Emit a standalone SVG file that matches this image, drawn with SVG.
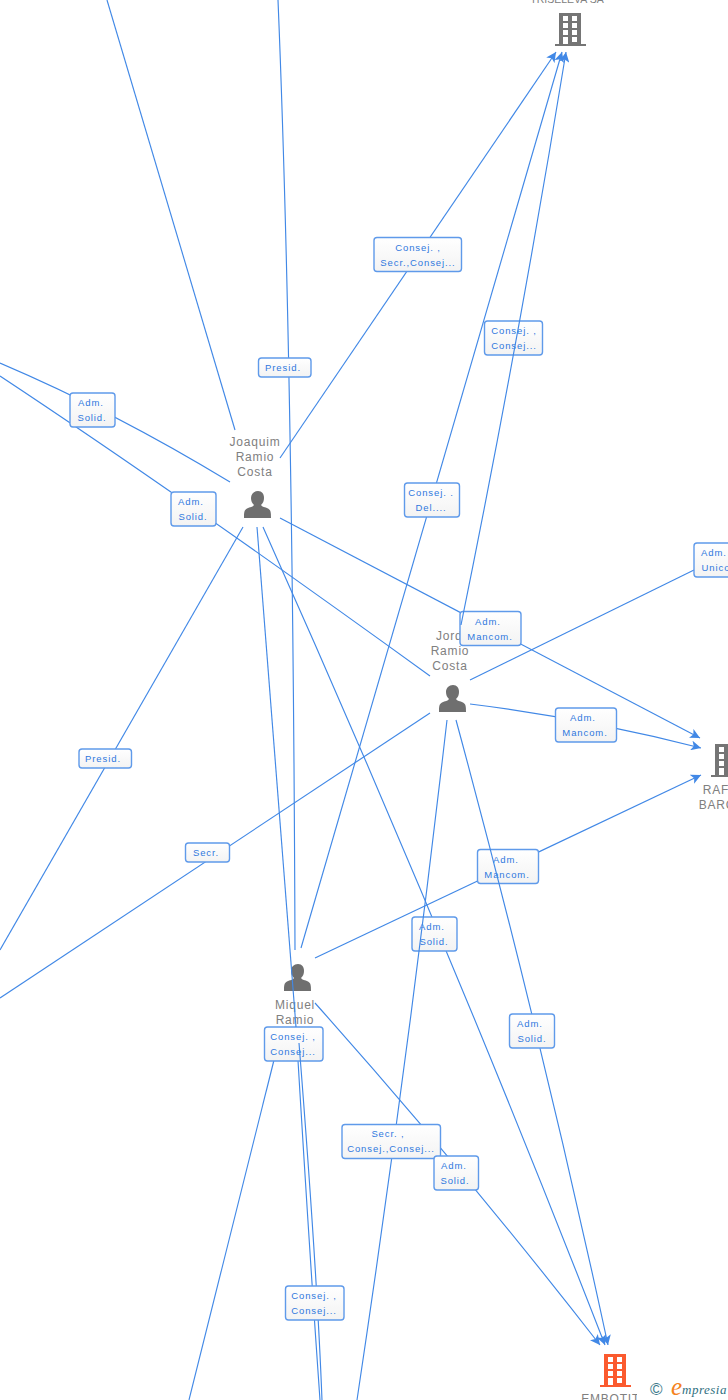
<svg xmlns="http://www.w3.org/2000/svg" width="728" height="1400" viewBox="0 0 728 1400">
<style>
.c{fill:none;stroke:#4188e6;stroke-width:1.15}
.a{marker-end:url(#ah)}
.b{fill:url(#lg);stroke:#5f9aea;stroke-width:1.4}
.t{font:9.5px "Liberation Sans",Arial,sans-serif;fill:#2f78de;text-anchor:middle;letter-spacing:.9px}
.n{font:12px "Liberation Sans",Arial,sans-serif;fill:#808080;text-anchor:middle;letter-spacing:.8px}
</style>
<defs>
<linearGradient id="lg" x1="0" y1="0" x2="0" y2="1"><stop offset="0" stop-color="#fff"/><stop offset="1" stop-color="#f3f3f3"/></linearGradient>
<marker id="ah" markerUnits="userSpaceOnUse" markerWidth="12" markerHeight="10" refX="10" refY="5" orient="auto"><path d="M0 0L10 5L0 10L2.500 5Z" fill="#4188e6"/></marker>
<symbol id="bld" overflow="visible">
<path fill="currentColor" fill-rule="evenodd" d="M4 0H26V31H31V33H0V31H4ZM8 3V8H13V3ZM17 3V8H22V3ZM8 10V15H13V10ZM17 10V15H22V10ZM8 17V22H13V17ZM17 17V22H22V17ZM8 24V31H13V24ZM17 24V29H22V24Z"/>
</symbol>
<symbol id="per" overflow="visible">
<path fill="#6f6f6f" d="M14 0C18 0 20 3 20 7C20 10 19 12 17 14C18 16 21 16 24 17.500C27 19 27 22 27 27H0C0 22 0 19 3 17.500C6 16 9 16 10 14C8 12 7 10 7 7C7 3 10 0 14 0Z"/>
</symbol>
<clipPath id="cE2"><rect x="570" y="1380" width="67" height="20"/></clipPath>
</defs>

<g id="connectors-under">
<path class="c" d="M107 0L235 430"/>
<path class="c" d="M278 0Q293 365 295 950"/>
<path class="c" d="M0 363Q115 412 230 482"/>
<path class="c" d="M0 376Q180 495 430 676"/>
<path class="c" d="M243 527L0 950"/>
<path class="c a" d="M263 527Q446 936 605 1345"/>
<path class="c a" d="M280 518L700 738"/>
<path class="c a" d="M280 458L556 52"/>
<path class="c a" d="M301 948L562 52"/>
<path class="c" d="M470 680L694 570"/>
<path class="c a" d="M470 704Q584 718 701 748"/>
<path class="c" d="M430 713L0 998"/>
<path class="c a" d="M315 958L701 775"/>
<path class="c a" d="M315 1003Q464 1170 600 1345"/>
<path class="c" d="M274 1060L189 1400"/>
<path class="c" d="M296 1027Q308 1230 320 1400"/>
</g>

<g id="n-triseleva">
<text class="n" x="567" y="3" style="font-size:10.500px;letter-spacing:0">TRISELEVA SA</text>
<use href="#bld" x="555" y="13" style="color:#757575"/>
</g>
<g id="n-rafa">
<use href="#bld" x="711" y="744" style="color:#757575"/>
<text class="n" x="720" y="794">RAFA</text>
<text class="n" x="717" y="809">BARC</text>
</g>
<g id="n-embotits">
<use href="#bld" x="600" y="1354" style="color:#fb5a2e"/>
<text class="n" x="615" y="1403" clip-path="url(#cE2)">EMBOTITS</text>
</g>
<g id="n-joaquim">
<text class="n" x="255" y="446">Joaquim</text>
<text class="n" x="255" y="461">Ramio</text>
<text class="n" x="255" y="476">Costa</text>
<use href="#per" x="244" y="491"/>
</g>
<g id="n-jordi">
<text class="n" x="451" y="640">Jordi</text>
<text class="n" x="450" y="655">Ramio</text>
<text class="n" x="450" y="670">Costa</text>
<use href="#per" x="439" y="685"/>
</g>
<g id="n-miquel">
<use href="#per" x="284" y="964"/>
<text class="n" x="295" y="1009">Miquel</text>
<text class="n" x="295" y="1024">Ramio</text>
</g>

<g id="l1"><rect class="b" x="374" y="237.500" width="87.500" height="34" rx="3"/><text class="t" x="418" y="251">Consej. ,</text><text class="t" x="418" y="266">Secr.,Consej...</text></g>
<g id="l2"><rect class="b" x="484.500" y="321" width="58" height="34" rx="3"/><text class="t" x="514" y="334">Consej. ,</text><text class="t" x="514" y="349">Consej...</text></g>
<g id="l3"><rect class="b" x="258.500" y="358" width="52.500" height="19" rx="3"/><text class="t" x="283" y="371">Presid.</text></g>
<g id="l4"><rect class="b" x="70" y="393" width="45" height="34" rx="3"/><text class="t" x="91" y="406">Adm.</text><text class="t" x="92" y="421">Solid.</text></g>
<g id="l5"><rect class="b" x="171" y="492" width="45" height="34" rx="3"/><text class="t" x="191" y="505">Adm.</text><text class="t" x="193" y="520">Solid.</text></g>
<g id="l6"><rect class="b" x="404.500" y="483" width="55" height="34" rx="3"/><text class="t" x="431" y="496">Consej. .</text><text class="t" x="431" y="511">Del....</text></g>
<g id="l7"><rect class="b" x="460" y="611.500" width="61" height="34" rx="3"/><text class="t" x="488" y="625">Adm.</text><text class="t" x="490" y="640">Mancom.</text></g>
<g id="l8"><rect class="b" x="694" y="543" width="50" height="34" rx="3"/><text class="t" x="714" y="556">Adm.</text><text class="t" x="716" y="571">Unico</text></g>
<g id="l9"><rect class="b" x="555.500" y="708" width="61" height="34" rx="3"/><text class="t" x="583" y="721">Adm.</text><text class="t" x="585" y="736">Mancom.</text></g>
<g id="l10"><rect class="b" x="79" y="749" width="52.500" height="19" rx="3"/><text class="t" x="103" y="762">Presid.</text></g>
<g id="l11"><rect class="b" x="185.500" y="843" width="44" height="19" rx="3"/><text class="t" x="206" y="856">Secr.</text></g>
<g id="l12"><rect class="b" x="477.500" y="849.500" width="61" height="34" rx="3"/><text class="t" x="506" y="863">Adm.</text><text class="t" x="507" y="878">Mancom.</text></g>
<g id="l13"><rect class="b" x="412" y="917" width="45" height="34" rx="3"/><text class="t" x="432" y="930">Adm.</text><text class="t" x="434" y="945">Solid.</text></g>
<g id="l15"><rect class="b" x="264.500" y="1027" width="58.500" height="34" rx="3"/><text class="t" x="293" y="1040">Consej. ,</text><text class="t" x="293" y="1055">Consej...</text></g>

<g id="connectors-over">
<path class="c a" d="M461 625Q519 340 566 52"/>
<path class="c" d="M257 527L296 1027"/>
<path class="c" d="M447 720Q408 1060 357 1400"/>
<path class="c a" d="M456 720Q540 1030 608 1345"/>
<path class="c" d="M299 1043Q317 1270 322 1400"/>
</g>

<g id="l14"><rect class="b" x="509.500" y="1014" width="45" height="34" rx="3"/><text class="t" x="530" y="1027">Adm.</text><text class="t" x="532" y="1042">Solid.</text></g>
<g id="l16"><rect class="b" x="342" y="1124.500" width="98.500" height="34" rx="3"/><text class="t" x="388" y="1137">Secr. ,</text><text class="t" x="391" y="1152">Consej.,Consej...</text></g>
<g id="l17"><rect class="b" x="434" y="1156" width="44.500" height="34" rx="3"/><text class="t" x="454" y="1169">Adm.</text><text class="t" x="455" y="1184">Solid.</text></g>
<g id="l18"><rect class="b" x="285.500" y="1286" width="58.500" height="34" rx="3"/><text class="t" x="314" y="1299">Consej. ,</text><text class="t" x="314" y="1314">Consej...</text></g>

<g id="logo">
<text x="650" y="1395" style="font:17px 'Liberation Sans',sans-serif;fill:#3c7a8c">©</text>
<text x="671" y="1395" style="font:italic 25px 'Liberation Serif',serif;fill:#f58220">e</text>
<text x="682" y="1394" style="font:italic 13px 'Liberation Serif',serif;fill:#2f6f80;letter-spacing:.5px">mpresia</text>
</g>
</svg>
